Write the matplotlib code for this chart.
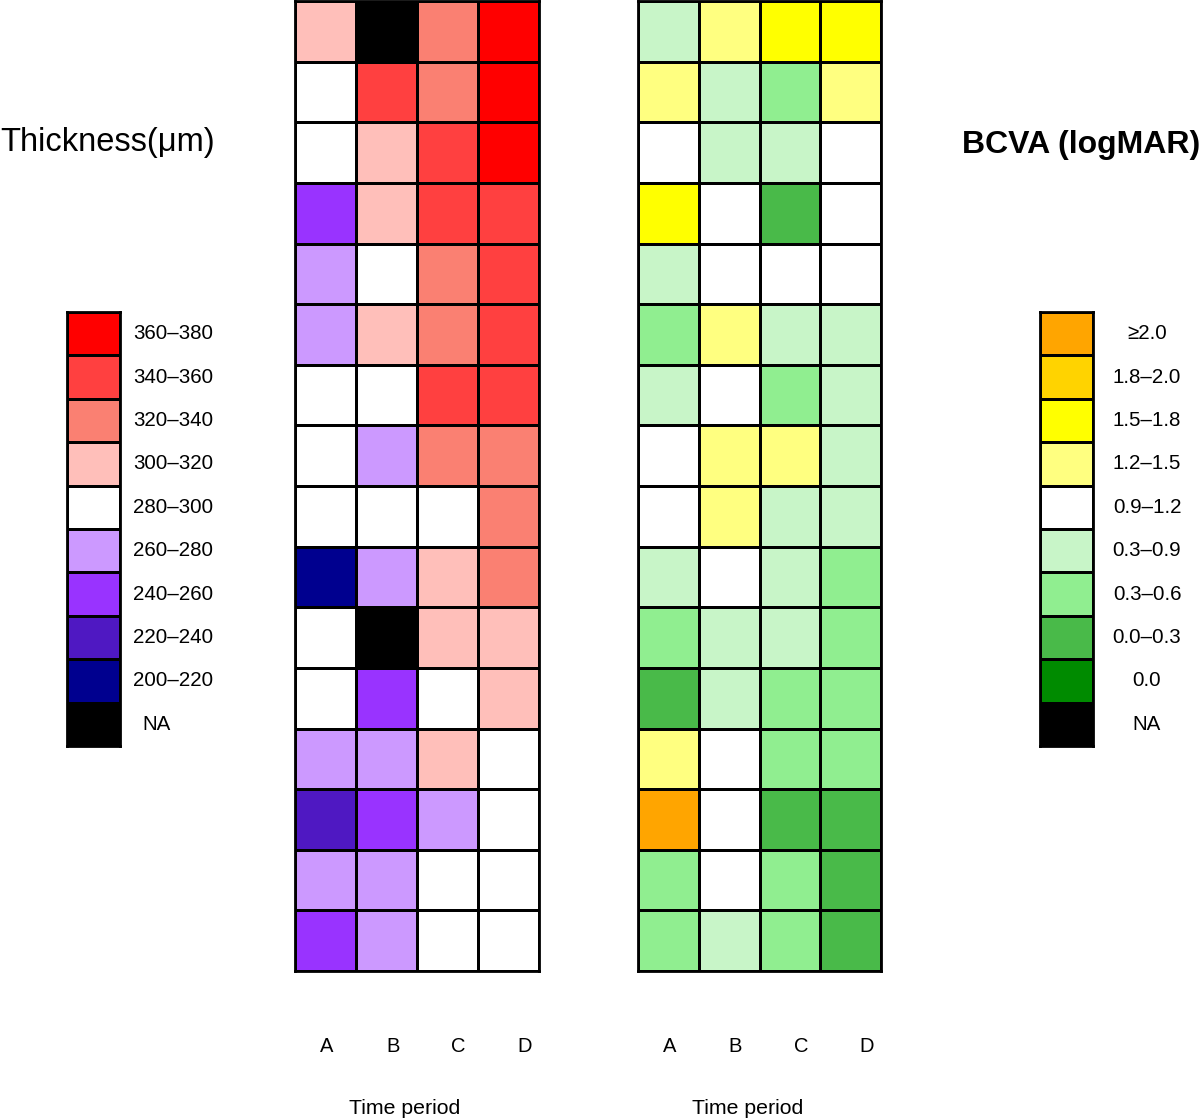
import numpy as np
import matplotlib
matplotlib.use("Agg")
import matplotlib.pyplot as plt
from matplotlib.colors import ListedColormap, BoundaryNorm
from matplotlib.transforms import blended_transform_factory

plt.rcParams['font.family'] = ['Liberation Sans', 'DejaVu Sans']

# class codes: 0 = NA, 1..9 = lowest..highest bin
thick_labels = ["NA", "200\u2013220", "220\u2013240", "240\u2013260", "260\u2013280",
                "280\u2013300", "300\u2013320", "320\u2013340", "340\u2013360", "360\u2013380"]
thick_colors = ["#000000", "#00008F", "#4F18C2", "#9933FF", "#CC99FF",
                "#FFFFFF", "#FFBFBA", "#FA8072", "#FF4040", "#FF0000"]

bcva_labels = ["NA", "0.0", "0.0\u20130.3", "0.3\u20130.6", "0.3\u20130.9",
               "0.9\u20131.2", "1.2\u20131.5", "1.5\u20131.8", "1.8\u20132.0", "\u22652.0"]
bcva_colors = ["#000000", "#008B00", "#49BA49", "#90EE90", "#C8F5C8",
               "#FFFFFF", "#FFFF80", "#FFFF00", "#FFD300", "#FFA500"]

periods = ["A", "B", "C", "D"]

# rows top to bottom, columns A-D
thickness = [
    [6, 0, 7, 9],
    [5, 8, 7, 9],
    [5, 6, 8, 9],
    [3, 6, 8, 8],
    [4, 5, 7, 8],
    [4, 6, 7, 8],
    [5, 5, 8, 8],
    [5, 4, 7, 7],
    [5, 5, 5, 7],
    [1, 4, 6, 7],
    [5, 0, 6, 6],
    [5, 3, 5, 6],
    [4, 4, 6, 5],
    [2, 3, 4, 5],
    [4, 4, 5, 5],
    [3, 4, 5, 5],
]

bcva = [
    [4, 6, 7, 7],
    [6, 4, 3, 6],
    [5, 4, 4, 5],
    [7, 5, 2, 5],
    [4, 5, 5, 5],
    [3, 6, 4, 4],
    [4, 5, 3, 4],
    [5, 6, 6, 4],
    [5, 6, 4, 4],
    [4, 5, 4, 3],
    [3, 4, 4, 3],
    [2, 4, 3, 3],
    [6, 5, 3, 3],
    [9, 5, 2, 2],
    [3, 5, 3, 2],
    [3, 4, 3, 2],
]

W, H = 1200, 1120
fig = plt.figure(figsize=(W / 100, H / 100), dpi=100)


def box(x0, y0, x1, y1):
    # pixel box (top-left origin) -> figure fraction
    return [x0 / W, 1 - y1 / H, (x1 - x0) / W, (y1 - y0) / H]


def heat(ax, data, colors):
    cmap = ListedColormap(colors)
    norm = BoundaryNorm(np.arange(-0.5, 10.5, 1), cmap.N)
    arr = np.array(data)
    ax.pcolormesh(arr, cmap=cmap, norm=norm, edgecolors="black", linewidth=2)
    ax.set_xlim(0, arr.shape[1])
    ax.set_ylim(arr.shape[0], 0)
    ax.set_xticks([])
    ax.set_yticks([])
    for s in ax.spines.values():
        s.set_linewidth(2)


# --- main heatmaps ---
ax1 = fig.add_axes(box(295, 1, 539, 971))
heat(ax1, thickness, thick_colors)
ax2 = fig.add_axes(box(638, 1, 881, 971))
heat(ax2, bcva, bcva_colors)

for ax in (ax1, ax2):
    tr = blended_transform_factory(ax.transAxes, fig.transFigure)
    for i, p in enumerate(periods):
        ax.text(0.13 + 0.27 * i, 1 - 1047 / H, p, transform=tr,
                ha="center", va="center", fontsize=14.5)
    ax.text(0.45, 1 - 1108 / H, "Time period", transform=tr,
            ha="center", va="center", fontsize=15.3)

# --- legends ---
lg1 = fig.add_axes(box(67, 312, 120, 746))
heat(lg1, [[k] for k in range(9, -1, -1)], thick_colors)
for j, k in enumerate(range(9, -1, -1)):
    x = 133 / W if k > 0 else 142 / W
    fig.text(x, 1 - (312 + 43.4 * (j + 0.5)) / H, thick_labels[k],
             ha="left", va="center", fontsize=14.8)

lg2 = fig.add_axes(box(1040, 312, 1093, 746))
heat(lg2, [[k] for k in range(9, -1, -1)], bcva_colors)
for j, k in enumerate(range(9, -1, -1)):
    fig.text(1147 / W, 1 - (312 + 43.4 * (j + 0.5)) / H, bcva_labels[k],
             ha="center", va="center", fontsize=14.8)

fig.text(0.0, 1 - 142 / H, "Thickness(\u03bcm)", ha="left", va="center", fontsize=23.5)
fig.text(1.0, 1 - 145 / H, "BCVA (logMAR)", ha="right", va="center",
         fontsize=23, fontweight="bold")

fig.savefig("out.png", dpi=100)
